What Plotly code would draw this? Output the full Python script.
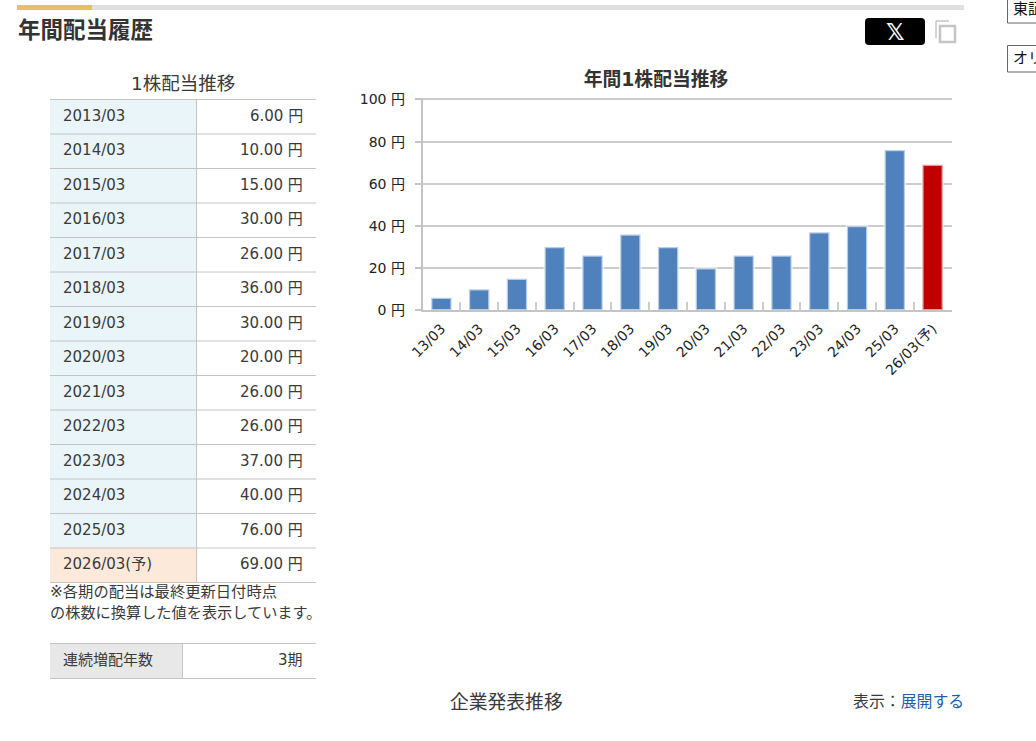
import plotly.graph_objects as go

# Data read from the page
periods = ["2013/03", "2014/03", "2015/03", "2016/03", "2017/03", "2018/03", "2019/03",
           "2020/03", "2021/03", "2022/03", "2023/03", "2024/03", "2025/03", "2026/03(予)"]
table_values = ["6.00", "10.00", "15.00", "30.00", "26.00", "36.00", "30.00",
                "20.00", "26.00", "26.00", "37.00", "40.00", "76.00", "69.00"]
chart_labels = ["13/03", "14/03", "15/03", "16/03", "17/03", "18/03", "19/03",
                "20/03", "21/03", "22/03", "23/03", "24/03", "25/03", "26/03(予)"]
dividends = [6, 10, 15, 30, 26, 36, 30, 20, 26, 26, 37, 40, 76, 69]

W = 1036
H = 741
FONT = "DejaVu Sans, Noto Sans CJK JP"
TEXT = "#3a3a3a"
LINE = "#c4c4c4"

shapes = []
annotations = []


def rect(x0, y0, x1, y1, color):
    shapes.append(dict(type="rect", xref="paper", yref="paper", x0=x0 / W, x1=x1 / W,
                       y0=1 - y0 / H, y1=1 - y1 / H, fillcolor=color, line_width=0, layer="below"))


def hline(x0, x1, y, color=LINE, width=1):
    shapes.append(dict(type="line", xref="paper", yref="paper", x0=x0 / W, x1=x1 / W,
                       y0=1 - y / H, y1=1 - y / H, line=dict(color=color, width=width)))


def vline(x, y0, y1, color=LINE, width=1):
    shapes.append(dict(type="line", xref="paper", yref="paper", x0=x / W, x1=x / W,
                       y0=1 - y0 / H, y1=1 - y1 / H, line=dict(color=color, width=width)))


def label(x, y, text, size=15, color=TEXT, anchor="left", bold=False, family=FONT):
    if bold:
        text = f"<b>{text}</b>"
    annotations.append(dict(xref="paper", yref="paper", x=x / W, y=1 - y / H, text=text,
                            showarrow=False, xanchor=anchor, yanchor="middle", borderpad=0, borderwidth=0,
                            font=dict(family=family, size=size, color=color)))


# Section header
rect(17, 5, 92, 10, "#e3c35f")
rect(92, 5, 964, 10, "#e0e0e0")
label(18, 30, "年間配当履歴", size=22.5, color="#333333", bold=True)

# X button and copy icon
shapes.append(dict(type="path", xref="paper", yref="paper", layer="below", fillcolor="#000000", line_width=0,
                   path=f"M {869/W} {1-18/H} L {921/W} {1-18/H} Q {925/W} {1-18/H} {925/W} {1-22/H} "
                        f"L {925/W} {1-41/H} Q {925/W} {1-45/H} {921/W} {1-45/H} L {869/W} {1-45/H} "
                        f"Q {865/W} {1-45/H} {865/W} {1-41/H} L {865/W} {1-22/H} Q {865/W} {1-18/H} {869/W} {1-18/H} Z"))
label(895, 32, "<b>𝕏</b>", size=23, color="#ffffff", anchor="center", family="DejaVu Sans")
shapes.append(dict(type="rect", xref="paper", yref="paper", x0=940 / W, x1=955 / W, y0=1 - 26 / H, y1=1 - 42 / H,
                   line=dict(color="#c4c4c4", width=2.5), fillcolor="#ffffff"))
vline(936, 21, 38, color="#c4c4c4", width=1.5)
hline(936, 949, 21, color="#c4c4c4", width=1.5)

# Clipped boxes on the right edge
shapes.append(dict(type="rect", xref="paper", yref="paper", x0=1007.5 / W, x1=1040 / W, y0=1 + 2 / H, y1=1 - 23 / H,
                   line=dict(color="#666666", width=1), fillcolor="#ffffff"))
shapes.append(dict(type="rect", xref="paper", yref="paper", x0=1007.5 / W, x1=1040 / W, y0=1 - 45.5 / H, y1=1 - 72 / H,
                   line=dict(color="#666666", width=1), fillcolor="#ffffff"))
label(1013, 9, "東証", color="#111111")
label(1013, 58, "オリ", color="#111111")

# Dividend table
label(183, 84, "1株配当推移", size=18.5, anchor="center")
top = 99.5
row_h = 34.5
for i, (p, v) in enumerate(zip(periods, table_values)):
    y0 = top + i * row_h
    rect(50, y0, 196.5, y0 + row_h, "#fde9da" if "予" in p else "#e9f5f8")
    label(63, y0 + row_h / 2 - 0.8, p)
    label(303, y0 + row_h / 2 - 0.8, f"{v} 円", anchor="right")
    hline(50, 316, y0)
hline(50, 316, top + len(periods) * row_h)
vline(196.5, top, top + len(periods) * row_h)

label(50, 592, "※各期の配当は最終更新日付時点", size=15.3)
label(50, 613, "の株数に換算した値を表示しています。", size=15.2)

# Consecutive increase table
rect(50, 643.5, 182.5, 678.5, "#e8e8e8")
hline(50, 316, 643.5)
hline(50, 316, 678.5)
vline(182.5, 643.5, 678.5)
label(63, 660, "連続増配年数")
label(303, 660, "3期", anchor="right")

# Footer
label(506, 702, "企業発表推移", size=18.8, anchor="center")
label(964, 701, '表示：<span style="color:#1c5fa8">展開する</span>', size=15.9, anchor="right")

# Bar chart
colors = ["#c00000" if "予" in c else "#4f81bd" for c in chart_labels]
fig = go.Figure(go.Bar(
    x=chart_labels, y=dividends,
    marker=dict(color=colors, line=dict(color="rgba(255,255,255,0.6)", width=2.5)),
    width=0.54,
))

fig.update_layout(
    width=W, height=H,
    margin=dict(l=0, r=0, t=0, b=0, pad=0),
    paper_bgcolor="#ffffff", plot_bgcolor="#ffffff",
    showlegend=False,
    font=dict(family=FONT, color=TEXT),
    title=dict(text="<b>年間1株配当推移</b>", x=656 / W, y=1 - 79 / H, xanchor="center", yanchor="middle",
               automargin=False, font=dict(family=FONT, size=18.8, color="#333333")),
    xaxis=dict(domain=[422.5 / W, 951.5 / W], type="category", tickson="boundaries", ticks="inside",
               ticklen=9, tickwidth=1.5, tickcolor="#cccccc", tickangle=-45, showgrid=False,
               showline=True, linecolor=LINE, linewidth=1.5, automargin=False, ticklabelstandoff=3,
               tickfont=dict(family=FONT, size=14, color="#222222")),
    # plotly drops gridlines within 1px of the range end, so leave room above 100
    yaxis=dict(domain=[1 - 310.3 / H, 1 - 97.8 / H], range=[0, 100.8], tick0=0, dtick=20,
               ticksuffix=" 円", ticks="outside", ticklen=6, tickwidth=1.5, tickcolor=LINE,
               showgrid=True, gridcolor="#cccccc", gridwidth=1.5, zeroline=False,
               showline=True, linecolor=LINE, linewidth=1.5, automargin=False, ticklabelstandoff=7,
               tickfont=dict(family=FONT, size=14, color="#222222")),
    shapes=shapes,
    annotations=annotations,
)

fig.write_html("out.html", config={"displayModeBar": False},
               post_script="document.body.style.margin='0';document.body.style.overflow='hidden';")
